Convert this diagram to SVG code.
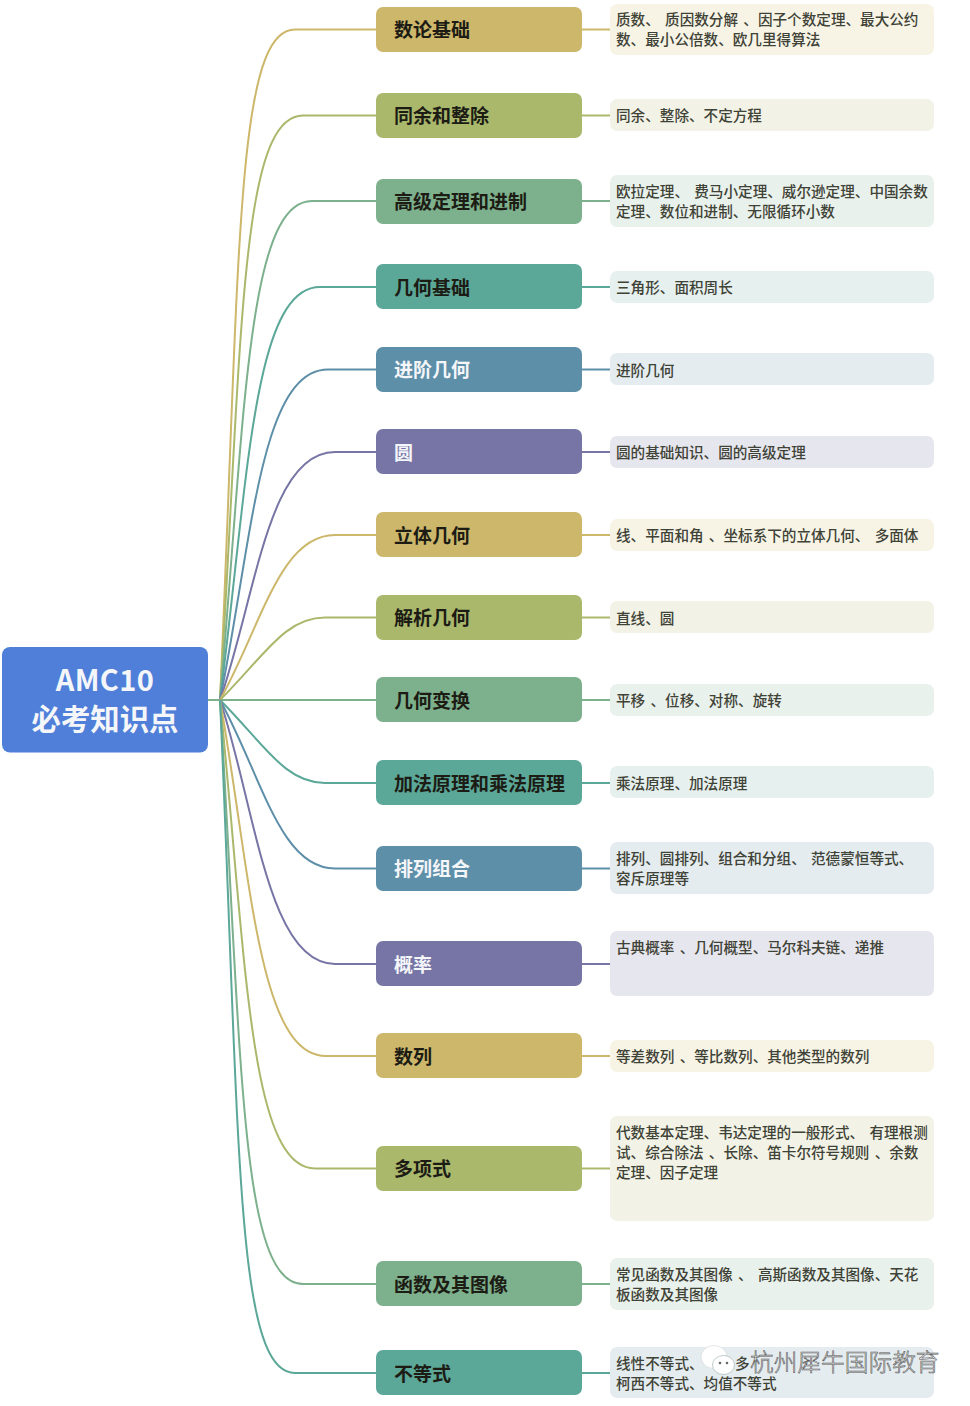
<svg xmlns="http://www.w3.org/2000/svg" width="970" height="1406" viewBox="0 0 970 1406">
<style>
text{font-family:"Noto Sans CJK SC","Noto Sans",sans-serif}
.n{font-size:19px;font-weight:700;fill:#1c1c14}
.w{fill:#f4f6fa}
.d{font-size:14.6px;font-weight:500;fill:#3f4236;word-spacing:2px}
.c{fill:none;stroke-width:2}
.c1{stroke:#cdb76b}.c2{stroke:#aab86c}.c3{stroke:#7db08c}.c4{stroke:#5ba798}.c5{stroke:#5e8fa8}.c6{stroke:#7775a5}
.f1{fill:#cdb76b}.f2{fill:#aab86c}.f3{fill:#7db08c}.f4{fill:#5ba798}.f5{fill:#5e8fa8}.f6{fill:#7775a5}
.t1{fill:#f7f4e6}.t2{fill:#f2f3e6}.t3{fill:#e9f1ec}.t4{fill:#e6f0ee}.t5{fill:#e4ecf0}.t6{fill:#e6e6ee}
.wm{font-size:23.7px;font-weight:300;fill:#fff;stroke:#555;stroke-width:.6px}
</style>
<rect width="970" height="1406" fill="#fff"/>
<g id="connectors">
<path class="c c3" d="M208 700H376"/>
<path class="c c1" d="M220 700C240 260 235 29.500 295 29.500H376"/>
<path class="c c2" d="M220 700C242 338 240 115.500 303 115.500H376"/>
<path class="c c3" d="M220 700C245 416 247 201 312 201H376"/>
<path class="c c4" d="M220 700C248 481 253 287 320 287H376"/>
<path class="c c5" d="M220 700C252 542 260 369.500 328 369.500H376"/>
<path class="c c6" d="M220 700C256 596 268 452 335 452H376"/>
<path class="c c1" d="M220 700C262 624 280 535 335 535H376"/>
<path class="c c2" d="M220 700C265 655 285 617.500 325 617.500H376"/>
<path class="c c4" d="M220 700C265 745 285 783 325 783H376"/>
<path class="c c5" d="M220 700C262 777 280 868.500 335 868.500H376"/>
<path class="c c6" d="M220 700C256 810 268 964 335 964H376"/>
<path class="c c1" d="M220 700C251 874 258 1056 326 1056H376"/>
<path class="c c2" d="M220 700C246 957 249 1168.500 315 1168.500H376"/>
<path class="c c3" d="M220 700C242 1062 240 1284 303 1284H376"/>
<path class="c c4" d="M220 700C240 1144 235 1373 295 1373H376"/>
<path class="c c1" d="M582 29.500H610"/><path class="c c2" d="M582 115.500H610"/><path class="c c3" d="M582 201H610"/><path class="c c4" d="M582 287H610"/><path class="c c5" d="M582 369.500H610"/><path class="c c6" d="M582 452H610"/><path class="c c1" d="M582 535H610"/><path class="c c2" d="M582 617.500H610"/><path class="c c3" d="M582 700H610"/><path class="c c4" d="M582 783H610"/><path class="c c5" d="M582 868.500H610"/><path class="c c6" d="M582 964H610"/><path class="c c1" d="M582 1056H610"/><path class="c c2" d="M582 1168.500H610"/><path class="c c3" d="M582 1284H610"/><path class="c c4" d="M582 1373H610"/>
</g>
<g id="root"><rect x="2" y="647" width="206" height="105.500" rx="8" fill="#4f7fd8"/><text x="105" y="691" text-anchor="middle" font-size="29" font-weight="700" letter-spacing=".4" fill="#f4f6fa">AMC10</text><text x="105" y="730" text-anchor="middle" font-size="29.400" font-weight="700" fill="#f4f6fa">必考知识点</text></g>
<g id="n1"><rect class="f1" x="376" y="7" width="206" height="45" rx="7"/><text class="n" x="394" y="37">数论基础</text><rect class="t1" x="610" y="4" width="324" height="51" rx="7"/><text class="d" x="616" y="25">质数、 质因数分解 、因子个数定理、最大公约</text><text class="d" x="616" y="45">数、最小公倍数、欧几里得算法</text></g>
<g id="n2"><rect class="f2" x="376" y="93" width="206" height="45" rx="7"/><text class="n" x="394" y="123">同余和整除</text><rect class="t2" x="610" y="99" width="324" height="32" rx="7"/><text class="d" x="616" y="121">同余、整除、不定方程</text></g>
<g id="n3"><rect class="f3" x="376" y="179" width="206" height="45" rx="7"/><text class="n" x="394" y="209">高级定理和进制</text><rect class="t3" x="610" y="175" width="324" height="52" rx="7"/><text class="d" x="616" y="197">欧拉定理、 费马小定理、威尔逊定理、中国余数</text><text class="d" x="616" y="217">定理、数位和进制、无限循环小数</text></g>
<g id="n4"><rect class="f4" x="376" y="264" width="206" height="45" rx="7"/><text class="n" x="394" y="295">几何基础</text><rect class="t4" x="610" y="271" width="324" height="32" rx="7"/><text class="d" x="616" y="293">三角形、面积周长</text></g>
<g id="n5"><rect class="f5" x="376" y="347" width="206" height="45" rx="7"/><text class="n w" x="394" y="377">进阶几何</text><rect class="t5" x="610" y="353" width="324" height="32" rx="7"/><text class="d" x="616" y="376">进阶几何</text></g>
<g id="n6"><rect class="f6" x="376" y="429" width="206" height="45" rx="7"/><text class="n w" x="394" y="460">圆</text><rect class="t6" x="610" y="436" width="324" height="32" rx="7"/><text class="d" x="616" y="458">圆的基础知识、圆的高级定理</text></g>
<g id="n7"><rect class="f1" x="376" y="512" width="206" height="45" rx="7"/><text class="n" x="394" y="543">立体几何</text><rect class="t1" x="610" y="519" width="324" height="32" rx="7"/><text class="d" x="616" y="541">线、平面和角 、坐标系下的立体几何、 多面体</text></g>
<g id="n8"><rect class="f2" x="376" y="595" width="206" height="45" rx="7"/><text class="n" x="394" y="625">解析几何</text><rect class="t2" x="610" y="601" width="324" height="32" rx="7"/><text class="d" x="616" y="624">直线、圆</text></g>
<g id="n9"><rect class="f3" x="376" y="677" width="206" height="45" rx="7"/><text class="n" x="394" y="708">几何变换</text><rect class="t3" x="610" y="684" width="324" height="32" rx="7"/><text class="d" x="616" y="706">平移 、位移、对称、旋转</text></g>
<g id="n10"><rect class="f4" x="376" y="760" width="206" height="45" rx="7"/><text class="n" x="394" y="791">加法原理和乘法原理</text><rect class="t4" x="610" y="766" width="324" height="32" rx="7"/><text class="d" x="616" y="789">乘法原理、加法原理</text></g>
<g id="n11"><rect class="f5" x="376" y="846" width="206" height="45" rx="7"/><text class="n w" x="394" y="876">排列组合</text><rect class="t5" x="610" y="842" width="324" height="52" rx="7"/><text class="d" x="616" y="864">排列、圆排列、组合和分组、 范德蒙恒等式、</text><text class="d" x="616" y="884">容斥原理等</text></g>
<g id="n12"><rect class="f6" x="376" y="941" width="206" height="45" rx="7"/><text class="n w" x="394" y="972">概率</text><rect class="t6" x="610" y="931" width="324" height="65" rx="7"/><text class="d" x="616" y="953">古典概率 、几何概型、马尔科夫链、递推</text></g>
<g id="n13"><rect class="f1" x="376" y="1033" width="206" height="45" rx="7"/><text class="n" x="394" y="1064">数列</text><rect class="t1" x="610" y="1040" width="324" height="32" rx="7"/><text class="d" x="616" y="1062">等差数列 、等比数列、其他类型的数列</text></g>
<g id="n14"><rect class="f2" x="376" y="1146" width="206" height="45" rx="7"/><text class="n" x="394" y="1176">多项式</text><rect class="t2" x="610" y="1116" width="324" height="105" rx="7"/><text class="d" x="616" y="1138">代数基本定理、韦达定理的一般形式、 有理根测</text><text class="d" x="616" y="1158">试、综合除法 、长除、笛卡尔符号规则 、余数</text><text class="d" x="616" y="1178">定理、因子定理</text></g>
<g id="n15"><rect class="f3" x="376" y="1261" width="206" height="45" rx="7"/><text class="n" x="394" y="1292">函数及其图像</text><rect class="t3" x="610" y="1258" width="324" height="52" rx="7"/><text class="d" x="616" y="1280">常见函数及其图像 、 高斯函数及其图像、天花</text><text class="d" x="616" y="1300">板函数及其图像</text></g>
<g id="n16"><rect class="f4" x="376" y="1350" width="206" height="45" rx="7"/><text class="n" x="394" y="1381">不等式</text><rect class="t5" x="610" y="1347" width="324" height="51" rx="7"/><text class="d" x="616" y="1369">线性不等式、</text><text class="d" x="735" y="1369">多</text><text class="d" x="616" y="1389">柯西不等式、均值不等式</text></g>
<g id="watermark"><ellipse cx="714" cy="1357" rx="13" ry="11.500" fill="#fff" stroke="#ccc" stroke-width=".5"/><ellipse cx="723.500" cy="1365" rx="11" ry="9.500" fill="#fff" stroke="#9aa" stroke-width=".6"/><circle cx="720" cy="1363" r="1.300" fill="#666"/><circle cx="727" cy="1363" r="1.300" fill="#666"/><text class="wm" x="750" y="1371">杭州犀牛国际教育</text></g>
</svg>
